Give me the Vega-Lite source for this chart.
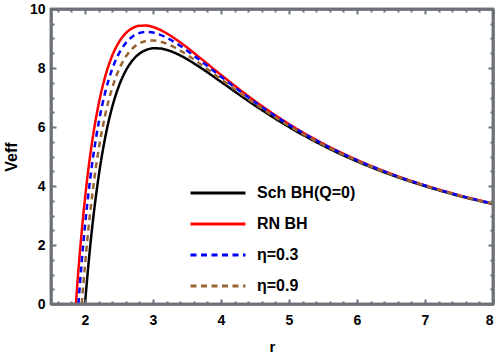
{
  "$schema": "https://vega.github.io/schema/vega-lite/v6.json",
  "width": 442,
  "height": 295,
  "autosize": {"type": "none"},
  "padding": {"left": 51, "top": 9, "right": 5, "bottom": 52},
  "background": "white",
  "config": {
    "view": {"stroke": "#6d7178", "strokeWidth": 2.5},
    "font": "Liberation Sans"
  },
  "data": {"values": [
    {"curve": "Sch BH(Q=0)", "r": 2.0, "V": 0},
    {"curve": "Sch BH(Q=0)", "r": 2.05, "V": 1.33},
    {"curve": "Sch BH(Q=0)", "r": 2.1, "V": 2.477},
    {"curve": "Sch BH(Q=0)", "r": 2.2, "V": 4.317},
    {"curve": "Sch BH(Q=0)", "r": 2.3, "V": 5.678},
    {"curve": "Sch BH(Q=0)", "r": 2.4, "V": 6.677},
    {"curve": "Sch BH(Q=0)", "r": 2.5, "V": 7.4},
    {"curve": "Sch BH(Q=0)", "r": 2.6, "V": 7.912},
    {"curve": "Sch BH(Q=0)", "r": 2.7, "V": 8.261},
    {"curve": "Sch BH(Q=0)", "r": 2.8, "V": 8.485},
    {"curve": "Sch BH(Q=0)", "r": 2.9, "V": 8.613},
    {"curve": "Sch BH(Q=0)", "r": 3.0, "V": 8.667},
    {"curve": "Sch BH(Q=0)", "r": 3.1, "V": 8.663},
    {"curve": "Sch BH(Q=0)", "r": 3.2, "V": 8.615},
    {"curve": "Sch BH(Q=0)", "r": 3.4, "V": 8.426},
    {"curve": "Sch BH(Q=0)", "r": 3.7, "V": 8.011},
    {"curve": "Sch BH(Q=0)", "r": 4.0, "V": 7.531},
    {"curve": "Sch BH(Q=0)", "r": 4.5, "V": 6.728},
    {"curve": "Sch BH(Q=0)", "r": 5.0, "V": 6.0},
    {"curve": "Sch BH(Q=0)", "r": 5.5, "V": 5.37},
    {"curve": "Sch BH(Q=0)", "r": 6.0, "V": 4.833},
    {"curve": "Sch BH(Q=0)", "r": 6.5, "V": 4.379},
    {"curve": "Sch BH(Q=0)", "r": 7.0, "V": 3.994},
    {"curve": "Sch BH(Q=0)", "r": 7.5, "V": 3.667},
    {"curve": "Sch BH(Q=0)", "r": 8.0, "V": 3.387},
    {"curve": "RN BH", "r": 1.866, "V": 0},
    {"curve": "RN BH", "r": 1.9, "V": 1.053},
    {"curve": "RN BH", "r": 1.95, "V": 2.413},
    {"curve": "RN BH", "r": 2.0, "V": 3.578},
    {"curve": "RN BH", "r": 2.05, "V": 4.575},
    {"curve": "RN BH", "r": 2.1, "V": 5.426},
    {"curve": "RN BH", "r": 2.2, "V": 6.77},
    {"curve": "RN BH", "r": 2.3, "V": 7.735},
    {"curve": "RN BH", "r": 2.4, "V": 8.416},
    {"curve": "RN BH", "r": 2.5, "V": 8.88},
    {"curve": "RN BH", "r": 2.6, "V": 9.18},
    {"curve": "RN BH", "r": 2.7, "V": 9.354},
    {"curve": "RN BH", "r": 2.8, "V": 9.432},
    {"curve": "RN BH", "r": 2.9, "V": 9.438},
    {"curve": "RN BH", "r": 3.0, "V": 9.389},
    {"curve": "RN BH", "r": 3.1, "V": 9.298},
    {"curve": "RN BH", "r": 3.2, "V": 9.176},
    {"curve": "RN BH", "r": 3.4, "V": 8.869},
    {"curve": "RN BH", "r": 3.7, "V": 8.329},
    {"curve": "RN BH", "r": 4.0, "V": 7.767},
    {"curve": "RN BH", "r": 4.5, "V": 6.878},
    {"curve": "RN BH", "r": 5.0, "V": 6.1},
    {"curve": "RN BH", "r": 5.5, "V": 5.439},
    {"curve": "RN BH", "r": 6.0, "V": 4.884},
    {"curve": "RN BH", "r": 6.5, "V": 4.416},
    {"curve": "RN BH", "r": 7.0, "V": 4.023},
    {"curve": "RN BH", "r": 7.5, "V": 3.689},
    {"curve": "RN BH", "r": 8.0, "V": 3.404},
    {"curve": "η=0.3", "r": 1.903, "V": 0},
    {"curve": "η=0.3", "r": 1.95, "V": 1.385},
    {"curve": "η=0.3", "r": 2.0, "V": 2.648},
    {"curve": "η=0.3", "r": 2.05, "V": 3.731},
    {"curve": "η=0.3", "r": 2.1, "V": 4.659},
    {"curve": "η=0.3", "r": 2.2, "V": 6.132},
    {"curve": "η=0.3", "r": 2.3, "V": 7.201},
    {"curve": "η=0.3", "r": 2.4, "V": 7.964},
    {"curve": "η=0.3", "r": 2.5, "V": 8.495},
    {"curve": "η=0.3", "r": 2.6, "V": 8.85},
    {"curve": "η=0.3", "r": 2.7, "V": 9.07},
    {"curve": "η=0.3", "r": 2.8, "V": 9.186},
    {"curve": "η=0.3", "r": 2.9, "V": 9.224},
    {"curve": "η=0.3", "r": 3.0, "V": 9.201},
    {"curve": "η=0.3", "r": 3.1, "V": 9.133},
    {"curve": "η=0.3", "r": 3.2, "V": 9.03},
    {"curve": "η=0.3", "r": 3.4, "V": 8.754},
    {"curve": "η=0.3", "r": 3.7, "V": 8.246},
    {"curve": "η=0.3", "r": 4.0, "V": 7.705},
    {"curve": "η=0.3", "r": 4.5, "V": 6.839},
    {"curve": "η=0.3", "r": 5.0, "V": 6.074},
    {"curve": "η=0.3", "r": 5.5, "V": 5.421},
    {"curve": "η=0.3", "r": 6.0, "V": 4.871},
    {"curve": "η=0.3", "r": 6.5, "V": 4.406},
    {"curve": "η=0.3", "r": 7.0, "V": 4.015},
    {"curve": "η=0.3", "r": 7.5, "V": 3.683},
    {"curve": "η=0.3", "r": 8.0, "V": 3.4},
    {"curve": "η=0.9", "r": 1.952, "V": 0},
    {"curve": "η=0.9", "r": 2.0, "V": 1.331},
    {"curve": "η=0.9", "r": 2.05, "V": 2.537},
    {"curve": "η=0.9", "r": 2.1, "V": 3.574},
    {"curve": "η=0.9", "r": 2.2, "V": 5.23},
    {"curve": "η=0.9", "r": 2.3, "V": 6.444},
    {"curve": "η=0.9", "r": 2.4, "V": 7.324},
    {"curve": "η=0.9", "r": 2.5, "V": 7.951},
    {"curve": "η=0.9", "r": 2.6, "V": 8.383},
    {"curve": "η=0.9", "r": 2.7, "V": 8.668},
    {"curve": "η=0.9", "r": 2.8, "V": 8.838},
    {"curve": "η=0.9", "r": 2.9, "V": 8.92},
    {"curve": "η=0.9", "r": 3.0, "V": 8.935},
    {"curve": "η=0.9", "r": 3.1, "V": 8.899},
    {"curve": "η=0.9", "r": 3.2, "V": 8.823},
    {"curve": "η=0.9", "r": 3.4, "V": 8.591},
    {"curve": "η=0.9", "r": 3.7, "V": 8.129},
    {"curve": "η=0.9", "r": 4.0, "V": 7.619},
    {"curve": "η=0.9", "r": 4.5, "V": 6.784},
    {"curve": "η=0.9", "r": 5.0, "V": 6.037},
    {"curve": "η=0.9", "r": 5.5, "V": 5.396},
    {"curve": "η=0.9", "r": 6.0, "V": 4.852},
    {"curve": "η=0.9", "r": 6.5, "V": 4.393},
    {"curve": "η=0.9", "r": 7.0, "V": 4.005},
    {"curve": "η=0.9", "r": 7.5, "V": 3.675},
    {"curve": "η=0.9", "r": 8.0, "V": 3.393}
  ]},
  "layer": [
    {
      "mark": {"type": "line", "clip": true, "strokeWidth": 2.5, "interpolate": "monotone"},
      "encoding": {
        "x": {
          "field": "r", "type": "quantitative",
          "scale": {"domain": [1.5, 8], "nice": false, "zero": false},
          "axis": {
            "orient": "bottom", "title": "r", "grid": false, "zindex": 2,
            "values": [1.6,1.8,2,2.2,2.4,2.6,2.8,3,3.2,3.4,3.6,3.8,4,4.2,4.4,4.6,4.8,5,5.2,5.4,5.6,5.8,6,6.2,6.4,6.6,6.8,7,7.2,7.4,7.6,7.8,8],
            "labelExpr": "datum.value % 1 === 0 ? '' + datum.value : ''",
            "tickSize": {"condition": {"test": "datum.value % 1 === 0", "value": -5}, "value": -3},
            "tickColor": "#6d7178", "tickWidth": 2,
            "domainColor": "#6d7178", "domainWidth": 2.5,
            "labelFont": "Liberation Sans", "labelFontWeight": "bold", "labelFontSize": 14, "labelColor": "#000000", "labelPadding": 14,
            "titleFont": "Liberation Sans", "titleFontWeight": "bold", "titleFontSize": 15, "titleColor": "#000000", "titlePadding": 12
          }
        },
        "y": {
          "field": "V", "type": "quantitative",
          "scale": {"domain": [0, 10], "nice": false},
          "axis": {
            "orient": "left", "title": "Veff", "grid": false, "zindex": 2,
            "values": [0,0.5,1,1.5,2,2.5,3,3.5,4,4.5,5,5.5,6,6.5,7,7.5,8,8.5,9,9.5,10],
            "labelExpr": "datum.value % 2 === 0 ? '' + datum.value : ''",
            "tickSize": {"condition": {"test": "datum.value % 2 === 0", "value": -5}, "value": -3},
            "tickColor": "#6d7178", "tickWidth": 2,
            "domainColor": "#6d7178", "domainWidth": 2.5,
            "labelFont": "Liberation Sans", "labelFontWeight": "bold", "labelFontSize": 14, "labelColor": "#000000", "labelPadding": 11,
            "titleFont": "Liberation Sans", "titleFontWeight": "bold", "titleFontSize": 16, "titleColor": "#000000", "titlePadding": 10
          }
        },
        "color": {
          "field": "curve", "type": "nominal",
          "scale": {"domain": ["Sch BH(Q=0)", "RN BH", "η=0.3", "η=0.9"], "range": ["#000000", "#ff0000", "#0000ff", "#996633"]},
          "legend": {
            "title": null, "orient": "none", "legendX": 159, "legendY": 176,
            "symbolType": "M-5.5,0H5.5", "symbolSize": 100, "symbolStrokeWidth": 3,
            "labelFont": "Liberation Sans", "labelFontWeight": "bold", "labelFontSize": 16, "labelColor": "#000000",
            "rowPadding": 15, "labelOffset": 31
          }
        },
        "strokeDash": {
          "field": "curve", "type": "nominal",
          "scale": {"domain": ["Sch BH(Q=0)", "RN BH", "η=0.3", "η=0.9"], "range": [[1, 0], [1, 0], [6, 4.5], [6, 4.5]]},
          "legend": {
            "title": null, "orient": "none", "legendX": 159, "legendY": 176,
            "symbolType": "M-5.5,0H5.5", "symbolSize": 100, "symbolStrokeWidth": 3,
            "labelFont": "Liberation Sans", "labelFontWeight": "bold", "labelFontSize": 16, "labelColor": "#000000",
            "rowPadding": 15, "labelOffset": 31
          }
        }
      }
    },
    {
      "data": {"values": [{"frame": "plot"}]},
      "mark": {"type": "rect", "filled": false, "stroke": "#6d7178", "strokeWidth": 2.5},
      "encoding": {
        "x": {"datum": 1.5, "type": "quantitative", "axis": {"orient": "top", "title": null, "labels": false, "grid": false, "zindex": 2,
            "values": [1.6,1.8,2,2.2,2.4,2.6,2.8,3,3.2,3.4,3.6,3.8,4,4.2,4.4,4.6,4.8,5,5.2,5.4,5.6,5.8,6,6.2,6.4,6.6,6.8,7,7.2,7.4,7.6,7.8,8],
            "tickSize": {"condition": {"test": "datum.value % 1 === 0", "value": -5}, "value": -3},
            "tickColor": "#6d7178", "tickWidth": 2,
            "domainColor": "#6d7178", "domainWidth": 2.5}},
        "x2": {"datum": 8},
        "y": {"datum": 0, "type": "quantitative", "axis": {"orient": "right", "title": null, "labels": false, "grid": false, "zindex": 2,
            "values": [0,0.5,1,1.5,2,2.5,3,3.5,4,4.5,5,5.5,6,6.5,7,7.5,8,8.5,9,9.5,10],
            "tickSize": {"condition": {"test": "datum.value % 2 === 0", "value": -5}, "value": -3},
            "tickColor": "#6d7178", "tickWidth": 2,
            "domainColor": "#6d7178", "domainWidth": 2.5}},
        "y2": {"datum": 10}
      }
    }
  ],
  "resolve": {"axis": {"x": "independent", "y": "independent"}}
}
